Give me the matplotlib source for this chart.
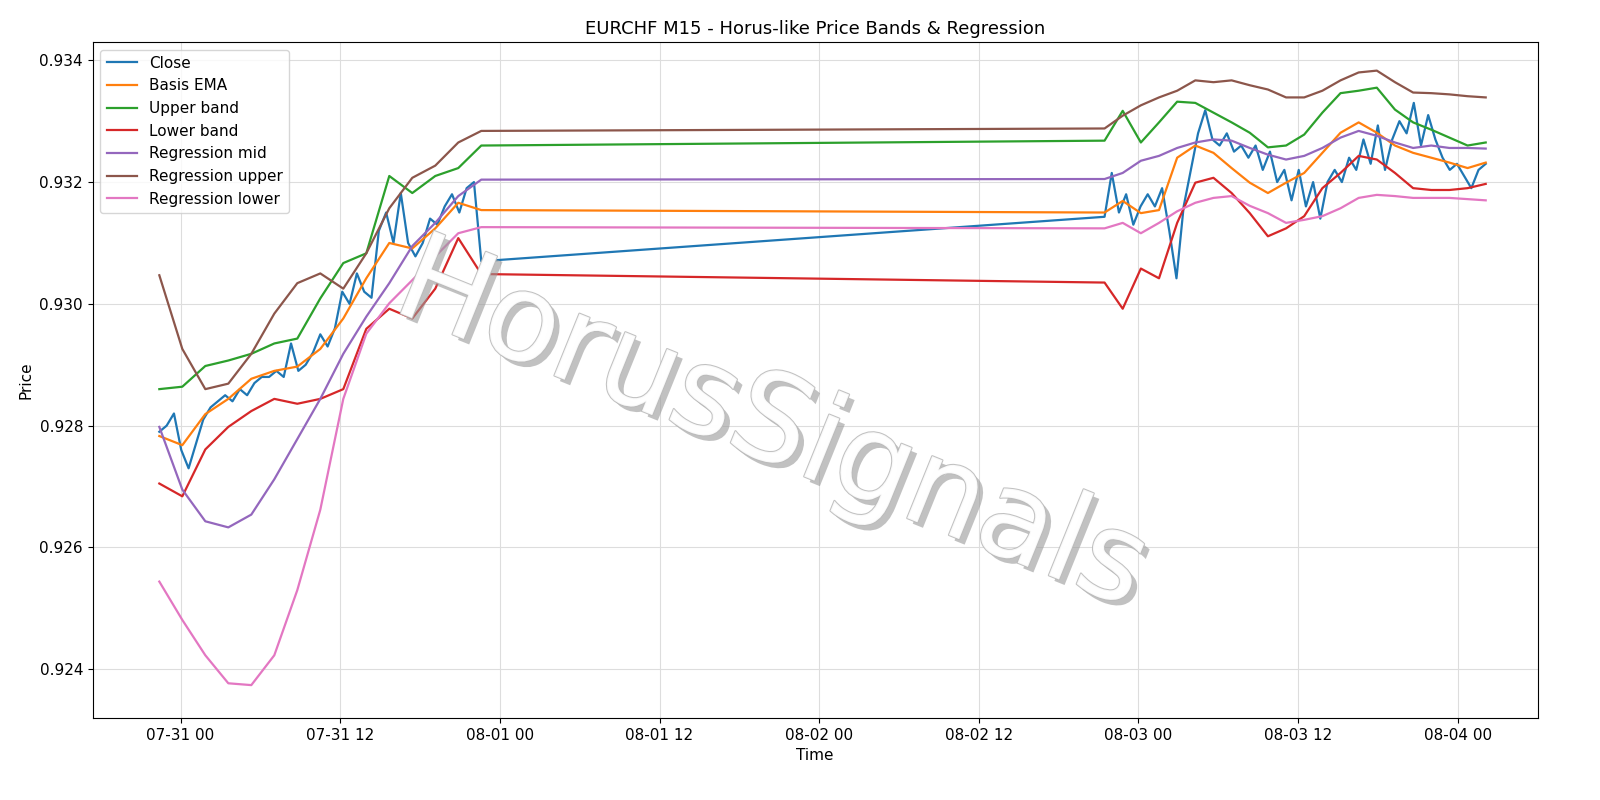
import matplotlib
matplotlib.use("Agg")
import matplotlib.pyplot as plt
import matplotlib.dates as mdates
import matplotlib.patheffects as pe
import pandas as pd
import numpy as np

close1 = [0.9279,0.9280,0.9282,0.9276,0.9273,0.9277,0.9281,0.9283,0.9284,0.9285,0.9284,0.9286,0.9285,
          0.9287,0.9288,0.9288,0.9289,0.9288,0.92935,0.9289,0.9290,0.9292,0.9295,0.9293,0.9296,0.9302,
          0.9300,0.9305,0.9302,0.9301,0.9312,0.9315,0.9310,0.93182,0.9310,0.93078,0.9310,0.9314,0.9313,
          0.9316,0.9318,0.9315,0.9319,0.9320,0.9307]
close2 = [0.93143,0.93215,0.9315,0.9318,0.9313,0.9316,0.9318,0.9316,0.9319,0.9312,0.93042,0.9316,0.9322,
          0.9328,0.93318,0.9327,0.9326,0.9328,0.9325,0.9326,0.9324,0.9326,0.9322,0.9325,0.9320,0.9322,
          0.9317,0.9322,0.9316,0.9320,0.9314,0.9320,0.9322,0.9320,0.9324,0.9322,0.9327,0.9323,0.93293,
          0.9322,0.9327,0.9330,0.9328,0.9333,0.9326,0.9331,0.9327,0.9324,0.9322,0.9323,0.9321,0.9319,0.9322,0.9323]

ema1 = [0.92783,0.92768,0.92819,0.92844,0.92877,0.9289,0.92897,0.92926,0.92976,0.93042,0.9310,0.93091,0.93124,0.93166,0.93154]
upper1 = [0.92860,0.92864,0.92898,0.92907,0.92918,0.92935,0.92943,0.93009,0.93067,0.93083,0.9321,0.93182,0.9321,0.93223,0.9326]
lower1 = [0.92705,0.92684,0.92761,0.92798,0.92824,0.92844,0.92836,0.92844,0.9286,0.92959,0.92992,0.92976,0.93025,0.93108,0.93049]
rmid1 = [0.92798,0.92695,0.92643,0.92633,0.92654,0.92712,0.92778,0.92844,0.92918,0.92979,0.93034,0.93095,0.93133,0.93177,0.93204]
rup1 = [0.93047,0.92926,0.9286,0.92869,0.92918,0.92984,0.93034,0.9305,0.93025,0.93083,0.93157,0.93207,0.93227,0.93265,0.93284]
rlo1 = [0.92544,0.92481,0.92423,0.92377,0.92374,0.92423,0.9253,0.92662,0.92844,0.92951,0.93001,0.93039,0.93078,0.93116,0.93126]

ema2 = [0.9315,0.93169,0.93149,0.93154,0.9324,0.9326,0.93248,0.93223,0.93199,0.93182,0.93199,0.93215,0.93248,0.93281,0.93298,0.93281,0.9326,0.93248,0.9324,0.93232,0.93223,0.93232]
upper2 = [0.93268,0.93317,0.93265,0.93298,0.93332,0.9333,0.93314,0.93298,0.93281,0.93257,0.9326,0.93278,0.93314,0.93346,0.9335,0.93355,0.93319,0.93298,0.93286,0.93273,0.9326,0.93265]
lower2 = [0.93035,0.92992,0.93058,0.93042,0.93133,0.93199,0.93207,0.93182,0.93149,0.93111,0.93124,0.93144,0.9319,0.93215,0.93243,0.93237,0.93215,0.9319,0.93187,0.93187,0.9319,0.93197]
rmid2 = [0.93205,0.93215,0.93235,0.93243,0.93256,0.93265,0.9327,0.93268,0.93256,0.93245,0.93237,0.93243,0.93256,0.93273,0.93284,0.93276,0.93265,0.93256,0.9326,0.93256,0.93256,0.93255]
rup2 = [0.93288,0.93309,0.93326,0.93339,0.9335,0.93367,0.93364,0.93367,0.93359,0.93352,0.93339,0.93339,0.9335,0.93367,0.9338,0.93383,0.93364,0.93347,0.93346,0.93344,0.93341,0.93339]
rlo2 = [0.93124,0.93133,0.93116,0.93133,0.93152,0.93166,0.93174,0.93177,0.93161,0.93149,0.93133,0.93138,0.93144,0.93157,0.93174,0.93179,0.93177,0.93174,0.93174,0.93174,0.93172,0.9317]

seg1 = ("2025-07-30 22:24", "2025-07-31 22:36")
seg2 = ("2025-08-02 21:27", "2025-08-04 02:06")

def series(a, b):
    t = pd.date_range(*seg1, periods=len(a)).append(pd.date_range(*seg2, periods=len(b)))
    return t, list(a) + list(b)

fig = plt.figure(figsize=(16, 8), dpi=100)
ax = fig.add_axes([0.058, 0.1025, 0.903, 0.845])

items = [("Close", close1, close2, "#1f77b4"),
         ("Basis EMA", ema1, ema2, "#ff7f0e"),
         ("Upper band", upper1, upper2, "#2ca02c"),
         ("Lower band", lower1, lower2, "#d62728"),
         ("Regression mid", rmid1, rmid2, "#9467bd"),
         ("Regression upper", rup1, rup2, "#8c564b"),
         ("Regression lower", rlo1, rlo2, "#e377c2")]
for name, a, b, c in items:
    t, v = series(a, b)
    ax.plot(t, v, color=c, lw=1.6, label=name)

ax.set_xlim(pd.Timestamp("2025-07-30 17:24"), pd.Timestamp("2025-08-04 06:00"))
ax.set_ylim(0.9232, 0.9343)
ax.xaxis.set_major_locator(mdates.HourLocator(byhour=[0, 12]))
ax.xaxis.set_major_formatter(mdates.DateFormatter("%m-%d %H"))
ax.grid(True, color="#dddddd", lw=0.8)
ax.set_title("EURCHF M15 - Horus-like Price Bands & Regression", fontsize=13)
ax.set_xlabel("Time", fontsize=11)
ax.set_ylabel("Price", fontsize=11)
ax.tick_params(labelsize=11)
ax.legend(loc="upper left", fontsize=11)

ax.text(0.47, 0.43, "HorusSignals", transform=ax.transAxes, ha="center", va="center",
        fontsize=88, rotation=-22, color="white", alpha=0.9, zorder=10,
        path_effects=[pe.withSimplePatchShadow(offset=(4, -4), shadow_rgbFace="#999999", alpha=0.6),
                      pe.Stroke(linewidth=1.5, foreground="#bbbbbb"), pe.Normal()])

fig.savefig("out.png", dpi=100)
